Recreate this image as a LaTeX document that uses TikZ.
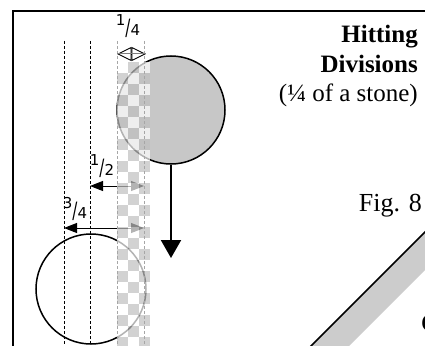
\documentclass[tikz,border=0pt]{standalone}
\usepackage{fontspec}
\setmainfont{Liberation Serif}
\newfontfamily\fracfont{DejaVu Sans}
\usepackage{graphicx}
\usetikzlibrary{arrows.meta, positioning}
\definecolor{stonegray}{gray}{0.78}
\definecolor{checkgray}{gray}{0.75}
\definecolor{bandgray}{gray}{0.80}
\newcommand{\hitfrac}[2]{\raisebox{10pt}{#1}\scalebox{1}[1.5]{/}#2}

\begin{document}
\begin{tikzpicture}[x=1pt, y=-1pt,
    guide/.style={densely dashed, line width=0.7pt},
    stripguide/.style={densely dashed, line width=0.9pt, gray!70},
    stone/.style={circle, draw=black, line width=1.5pt, minimum size=108pt, inner sep=0pt},
    dimarrow/.style={line width=1pt, {Triangle[length=13pt,width=10pt]}-{Triangle[length=13pt,width=10pt]}},
    fraclabel/.style={anchor=base, inner sep=0pt, font=\fracfont\fontsize{15}{15}\selectfont},
    titletext/.style={anchor=base east, inner sep=0pt, font=\fontsize{25}{29}\selectfont\bfseries}]
        \useasboundingbox (0,0) rectangle (425,345);
        \clip (0,0) rectangle (425,345);

        % Frame
        \draw[line width=2pt] (13,352) -- (13,11) -- (432,11);

        % Diagonal band
        \fill[bandgray] (305,352) -- (432,225) -- (432,263) -- (343,352) -- cycle;
        \draw[line width=1.5pt] (305,352) -- (432,225);

        % Stones
        \node[stone, fill=stonegray] (topstone) at (171,110) {};
        \node[stone, minimum size=110pt] (lowstone) at (91,289) {};

        % Guide lines
        \foreach \gx in {64,90}{
          \draw[guide] (\gx,41) -- (\gx,352);
        }

        % Offsets
        \coordinate (halfL) at (90,186);
        \coordinate (halfR) at (144,186);
        \coordinate (threeL) at (64,228);
        \coordinate (threeR) at (144,228);
        \draw[dimarrow] (halfL) -- (halfR);
        \draw[dimarrow] (threeL) -- (threeR);

        % Path of the stone
        \coordinate (fall) at (171,258);
        \draw[line width=2pt, -{Triangle[length=18pt,width=20pt]}] (topstone.south) -- (fall);

        % Quarter strip (checked)
        \foreach \r in {0,...,25}{
          \foreach \c in {0,1,2}{
            \pgfmathtruncatemacro{\odd}{mod(\r+\c,2)}
            \ifnum\odd=1
              \fill[checkgray, fill opacity=0.7] (117+11*\c,62+11*\r) rectangle ++(11,11);
            \else
              \fill[white, fill opacity=0.7] (117+11*\c,62+11*\r) rectangle ++(11,11);
            \fi
          }
        }
        \foreach \gx in {117,144}{
          \draw[stripguide] (\gx,41) -- (\gx,352);
        }

        % Quarter width
        \coordinate (qL) at (117,54);
        \coordinate (qR) at (146,54);
        \draw[line width=0.9pt, {Triangle[open,length=14.5pt,width=14pt]}-{Triangle[open,length=14.5pt,width=14pt]}] (qL) -- (qR);
        \draw[gray, line width=1pt] (qL) -- (qR);

        % Fractions
        \node[fraclabel] (quarter) at (128,35.5) {\hitfrac{1}{4}};
        \node[fraclabel] (half) at (102,175) {\hitfrac{1}{2}};
        \node[fraclabel] (threeq) at (75,218.5) {\hitfrac{3}{4}};

        % Titles
        \node[titletext] (hit) at (418,42) {Hitting};
        \node[titletext] (divs) at (418,72) {Divisions};
        \node[titletext, font=\fontsize{25}{29}\selectfont] (part) at (418,101) {(¼ of a stone)};
        \node[anchor=base east, inner sep=0pt, font=\fontsize{26}{30}\selectfont] (fig) at (422,211) {Fig. 8};
        \node[anchor=base west, inner sep=0pt, font=\fontsize{25}{29}\selectfont\bfseries] (cutword) at (421,331) {C};
\end{tikzpicture}
\end{document}
